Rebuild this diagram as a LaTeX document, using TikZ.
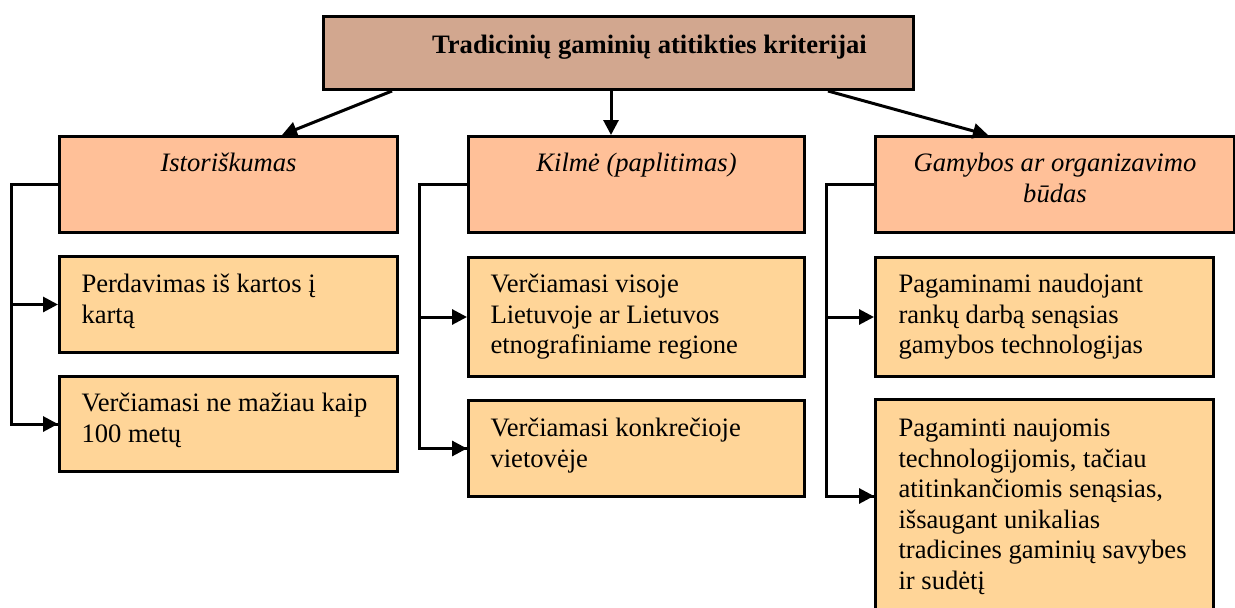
\documentclass[tikz,border=0pt]{standalone}
\usepackage{fontspec}
\setmainfont{Liberation Serif}
\usetikzlibrary{arrows.meta}

\definecolor{headfill}{RGB}{210,167,143}
\definecolor{catfill}{RGB}{255,192,152}
\definecolor{itemfill}{RGB}{255,213,152}

% box body: width, height, first baseline offset, paragraph setup, text
\newcommand\cellbody[5]{%
  \parbox[c][#2][t]{#1}{#4\rule{0pt}{#3}#5\par}}

\tikzset{
  boxbase/.style={draw, line width=3pt, inner sep=0pt, anchor=north west,
                  font=\fontsize{26.6}{30.6}\selectfont},
  headbox/.style={boxbase, fill=headfill},
  catbox/.style={boxbase, fill=catfill},
  itembox/.style={boxbase, fill=itemfill},
  link/.style={line width=3pt},
  linkarrow/.style={line width=3pt, -{Triangle[length=15pt,width=15pt]}},
}

\begin{document}
\begin{tikzpicture}[x=1pt, y=-1pt]
\useasboundingbox (0,0) rectangle (1235,608);
\clip (0,0) rectangle (1235,608);

% title
\node[headbox] (top) at (322,15)
  {\cellbody{590pt}{73pt}{37pt}{\centering}{\hspace*{62pt}\textbf{Tradicinių gaminių atitikties kriterijai}}};

% criteria
\node[catbox] (h1) at (58,135)
  {\cellbody{338pt}{96pt}{35pt}{\centering}{\textit{Istoriškumas}}};
\node[catbox] (h2) at (467,135)
  {\cellbody{336pt}{96pt}{35pt}{\centering}{\textit{Kilmė (paplitimas)}}};
\node[catbox] (h3) at (874,135)
  {\cellbody{359pt}{96pt}{35pt}{\centering}{\textit{Gamybos ar organizavimo\\ būdas}}};

% items
\node[itembox] (l1a) at (58,255)
  {\cellbody{338pt}{96pt}{36pt}{\raggedright\leftskip=22pt}{Perdavimas iš kartos į\\kartą}};
\node[itembox] (l1b) at (58,375)
  {\cellbody{338pt}{95pt}{35pt}{\raggedright\leftskip=22pt}{Verčiamasi ne mažiau kaip\\100 metų}};
\node[itembox] (l2a) at (467,256)
  {\cellbody{336pt}{119pt}{35pt}{\raggedright\leftskip=22pt}{Verčiamasi visoje\\Lietuvoje ar Lietuvos\\etnografiniame regione}};
\node[itembox] (l2b) at (467,399)
  {\cellbody{336pt}{96pt}{36pt}{\raggedright\leftskip=22pt}{Verčiamasi konkrečioje\\vietovėje}};
\node[itembox] (l3a) at (874,256)
  {\cellbody{338pt}{119pt}{35pt}{\raggedright\leftskip=23pt}{Pagaminami naudojant\\rankų darbą senąsias\\gamybos technologijas}};
\node[itembox] (l3b) at (874,398)
  {\cellbody{338pt}{220pt}{37pt}{\raggedright\leftskip=23pt}{Pagaminti naujomis\\technologijomis, tačiau\\atitinkančiomis senąsias,\\išsaugant unikalias\\tradicines gaminių savybes\\ir sudėtį}};

% title to criteria
\draw[linkarrow] ([xshift=70pt]top.south west) -- ([xshift=224pt]h1.north west);
\draw[linkarrow] ([xshift=289pt]top.south west) -- ([xshift=144pt]h2.north west);
\draw[linkarrow] ([xshift=506pt]top.south west) -- ([xshift=114pt]h3.north west);

% criteria to items
\draw[link] (h1.west) -- ++(-47,0) coordinate (s1) |- (l1b.west);
\draw[linkarrow] (s1 |- l1a.west) -- (l1a.west);
\draw[linkarrow] (s1 |- l1b.west) -- (l1b.west);

\draw[link] (h2.west) -- ++(-48,0) coordinate (s2) |- (l2b.west);
\draw[linkarrow] (s2 |- l2a.west) -- (l2a.west);
\draw[linkarrow] (s2 |- l2b.west) -- (l2b.west);

\coordinate (e3) at ([yshift=-98pt]l3b.north west);
\draw[link] (h3.west) -- ++(-48,0) coordinate (s3) |- (e3);
\draw[linkarrow] (s3 |- l3a.west) -- (l3a.west);
\draw[linkarrow] (s3 |- e3) -- (e3);
\end{tikzpicture}
\end{document}
